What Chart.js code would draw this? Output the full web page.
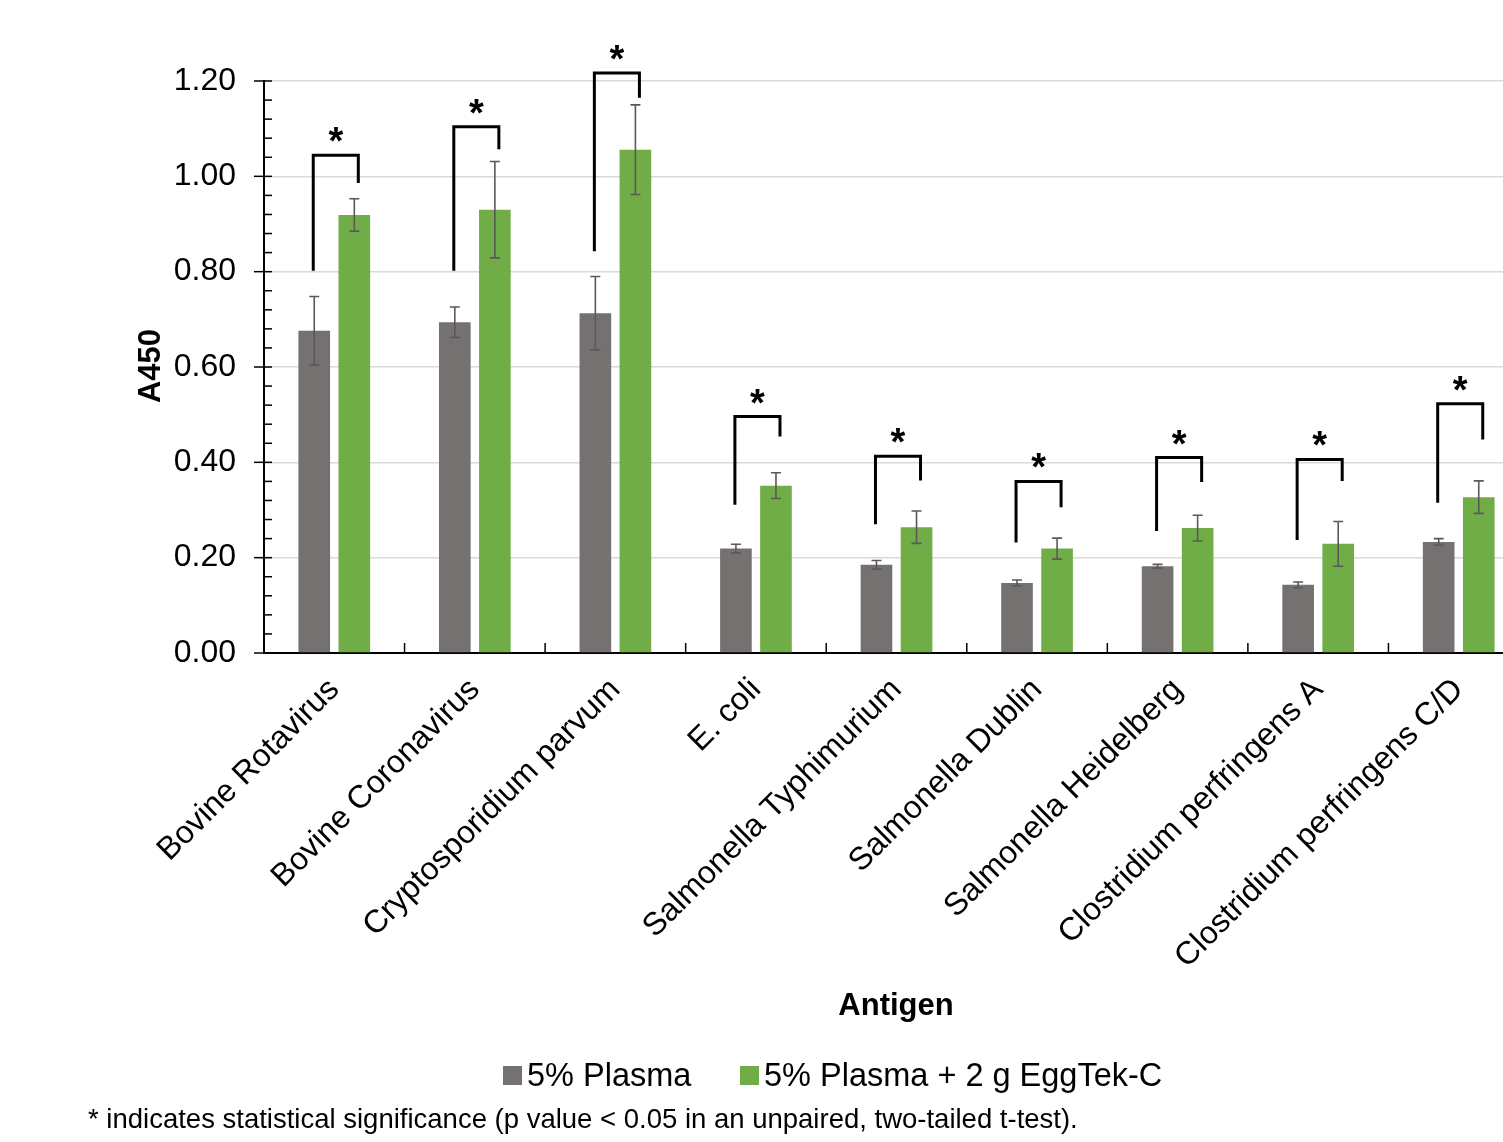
<!DOCTYPE html>
<html>
<head>
<meta charset="utf-8">
<title>A450 by antigen</title>
<script src="https://cdn.jsdelivr.net/npm/chart.js@4/dist/chart.umd.min.js"></script>
<style>
  html, body { margin: 0; padding: 0; background: #ffffff; overflow: hidden; }
  canvas { display: block; }
</style>
</head>
<body>
<canvas id="chart" width="1530" height="1142" style="width:1530px;height:1142px"></canvas>
<script>
// Antigens on the x axis
const antigens = [
  'Bovine Rotavirus', 'Bovine Coronavirus', 'Cryptosporidium parvum', 'E. coli',
  'Salmonella Typhimurium', 'Salmonella Dublin', 'Salmonella Heidelberg',
  'Clostridium perfringens A', 'Clostridium perfringens C/D'
];

// Mean A450 and error (±) for each treatment
const plasmaMeans = [0.676, 0.694, 0.713, 0.219, 0.185, 0.147, 0.182, 0.143, 0.233];
const plasmaErr   = [0.072, 0.032, 0.077, 0.009, 0.009, 0.006, 0.004, 0.006, 0.007];
const eggtekMeans = [0.919, 0.930, 1.056, 0.351, 0.264, 0.219, 0.262, 0.229, 0.327];
const eggtekErr   = [0.034, 0.101, 0.094, 0.027, 0.034, 0.022, 0.027, 0.047, 0.034];

// Significance brackets (A450 units): top bar, end of left leg, end of right leg
const bracketTop   = [1.044, 1.104, 1.217, 0.496, 0.413, 0.360, 0.410, 0.406, 0.523];
const bracketLeft  = [0.802, 0.802, 0.843, 0.311, 0.270, 0.232, 0.256, 0.237, 0.315];
const bracketRight = [0.986, 1.057, 1.165, 0.454, 0.362, 0.306, 0.359, 0.361, 0.448];

// Y axis
const yMin = 0, yMax = 1.2, yStep = 0.2, yMinorStep = 0.04;

const seriesNames = ['5% Plasma', '5% Plasma + 2 g EggTek-C'];
const seriesColors = ['#767171', '#70AD47'];

const FONT = "'Liberation Sans', Arial, Helvetica, sans-serif";
const PLOT_BOTTOM = 653;

const overlay = {
  id: 'overlay',
  afterDatasetsDraw(chart) {
    const { ctx, scales: { y } } = chart;
    const metaA = chart.getDatasetMeta(0);
    const metaB = chart.getDatasetMeta(1);
    ctx.save();

    // error bars
    ctx.strokeStyle = '#595959';
    ctx.lineWidth = 1.6;
    [[metaA, plasmaMeans, plasmaErr], [metaB, eggtekMeans, eggtekErr]].forEach(([meta, means, err]) => {
      meta.data.forEach((bar, i) => {
        const cx = bar.x;
        const yTop = y.getPixelForValue(means[i] + err[i]);
        const yBot = y.getPixelForValue(means[i] - err[i]);
        ctx.beginPath();
        ctx.moveTo(cx, yTop); ctx.lineTo(cx, yBot);
        ctx.moveTo(cx - 5, yTop); ctx.lineTo(cx + 5, yTop);
        ctx.moveTo(cx - 5, yBot); ctx.lineTo(cx + 5, yBot);
        ctx.stroke();
      });
    });

    // significance brackets and asterisks
    ctx.strokeStyle = '#000000';
    ctx.lineWidth = 3;
    ctx.lineJoin = 'miter';
    ctx.lineCap = 'butt';
    ctx.fillStyle = '#000000';
    ctx.font = 'bold 38px ' + FONT;
    ctx.textAlign = 'center';
    ctx.textBaseline = 'alphabetic';
    antigens.forEach((_, i) => {
      const xl = metaA.data[i].x - 1;
      const xr = metaB.data[i].x + 4;
      const yt = y.getPixelForValue(bracketTop[i]);
      ctx.beginPath();
      ctx.moveTo(xl, y.getPixelForValue(bracketLeft[i]));
      ctx.lineTo(xl, yt);
      ctx.lineTo(xr, yt);
      ctx.lineTo(xr, y.getPixelForValue(bracketRight[i]));
      ctx.stroke();
      ctx.fillText('*', (xl + xr) / 2, yt - 1);
    });
    ctx.restore();
  },
  afterDraw(chart) {
    const { ctx, chartArea, scales: { x, y } } = chart;
    ctx.save();
    ctx.strokeStyle = '#000000';
    ctx.lineWidth = 1.5;

    // y axis major (crossing) and minor (inside) tick marks
    const nMinor = Math.round((yMax - yMin) / yMinorStep);
    const perMajor = Math.round(yStep / yMinorStep);
    for (let k = 0; k <= nMinor; k++) {
      const py = y.getPixelForValue(yMin + k * yMinorStep);
      const major = k % perMajor === 0;
      ctx.beginPath();
      ctx.moveTo(chartArea.left - (major ? 10 : 0), py);
      ctx.lineTo(chartArea.left + 8, py);
      ctx.stroke();
    }

    // category boundary tick marks on the x axis
    for (let i = 1; i < antigens.length; i++) {
      const px = (x.getPixelForValue(i - 1) + x.getPixelForValue(i)) / 2;
      ctx.beginPath();
      ctx.moveTo(px, chartArea.bottom);
      ctx.lineTo(px, chartArea.bottom - 10);
      ctx.stroke();
    }

    // axis titles
    ctx.fillStyle = '#000000';
    ctx.font = 'bold 31px ' + FONT;
    ctx.textAlign = 'center';
    ctx.textBaseline = 'alphabetic';
    ctx.fillText('Antigen', 896, 1015);
    ctx.save();
    ctx.translate(160, 366);
    ctx.rotate(-Math.PI / 2);
    ctx.fillText('A450', 0, 0);
    ctx.restore();

    // legend
    ctx.font = '32.5px ' + FONT;
    ctx.textAlign = 'left';
    const legendX = [503, 740];
    seriesNames.forEach((name, i) => {
      ctx.fillStyle = seriesColors[i];
      ctx.fillRect(legendX[i], 1066, 19, 19);
      ctx.fillStyle = '#000000';
      ctx.fillText(name, legendX[i] + 24, 1086);
    });

    // footnote
    ctx.font = '27.5px ' + FONT;
    ctx.fillText('* indicates statistical significance (p value < 0.05 in an unpaired, two-tailed t-test).', 88, 1128);
    ctx.restore();
  }
};

new Chart(document.getElementById('chart'), {
  type: 'bar',
  data: {
    labels: antigens,
    datasets: [
      { label: seriesNames[0], data: plasmaMeans, backgroundColor: seriesColors[0] },
      { label: seriesNames[1], data: eggtekMeans, backgroundColor: seriesColors[1] }
    ]
  },
  options: {
    responsive: false,
    animation: false,
    events: [],
    layout: { padding: { top: 81, right: 1, left: 0, bottom: 0 } },
    datasets: { bar: { barPercentage: 0.79, categoryPercentage: 0.57 } },
    plugins: { legend: { display: false }, tooltip: { enabled: false } },
    scales: {
      x: {
        grid: { display: false },
        border: { display: true, color: '#000000', width: 2 },
        ticks: {
          color: '#000000', font: { family: FONT, size: 32 },
          minRotation: 45, maxRotation: 45, autoSkip: false, padding: 10
        },
        afterFit(scale) { scale.height = 1142 - PLOT_BOTTOM; }
      },
      y: {
        min: yMin, max: yMax,
        ticks: {
          stepSize: yStep, color: '#000000', font: { family: FONT, size: 32 },
          padding: 28, callback: v => v.toFixed(2)
        },
        grid: { color: '#d9d9d9', lineWidth: 1.5, drawTicks: false },
        border: { display: true, color: '#000000', width: 2 },
        afterFit(scale) { scale.width = 264; }
      }
    }
  },
  plugins: [overlay]
});
</script>
</body>
</html>
